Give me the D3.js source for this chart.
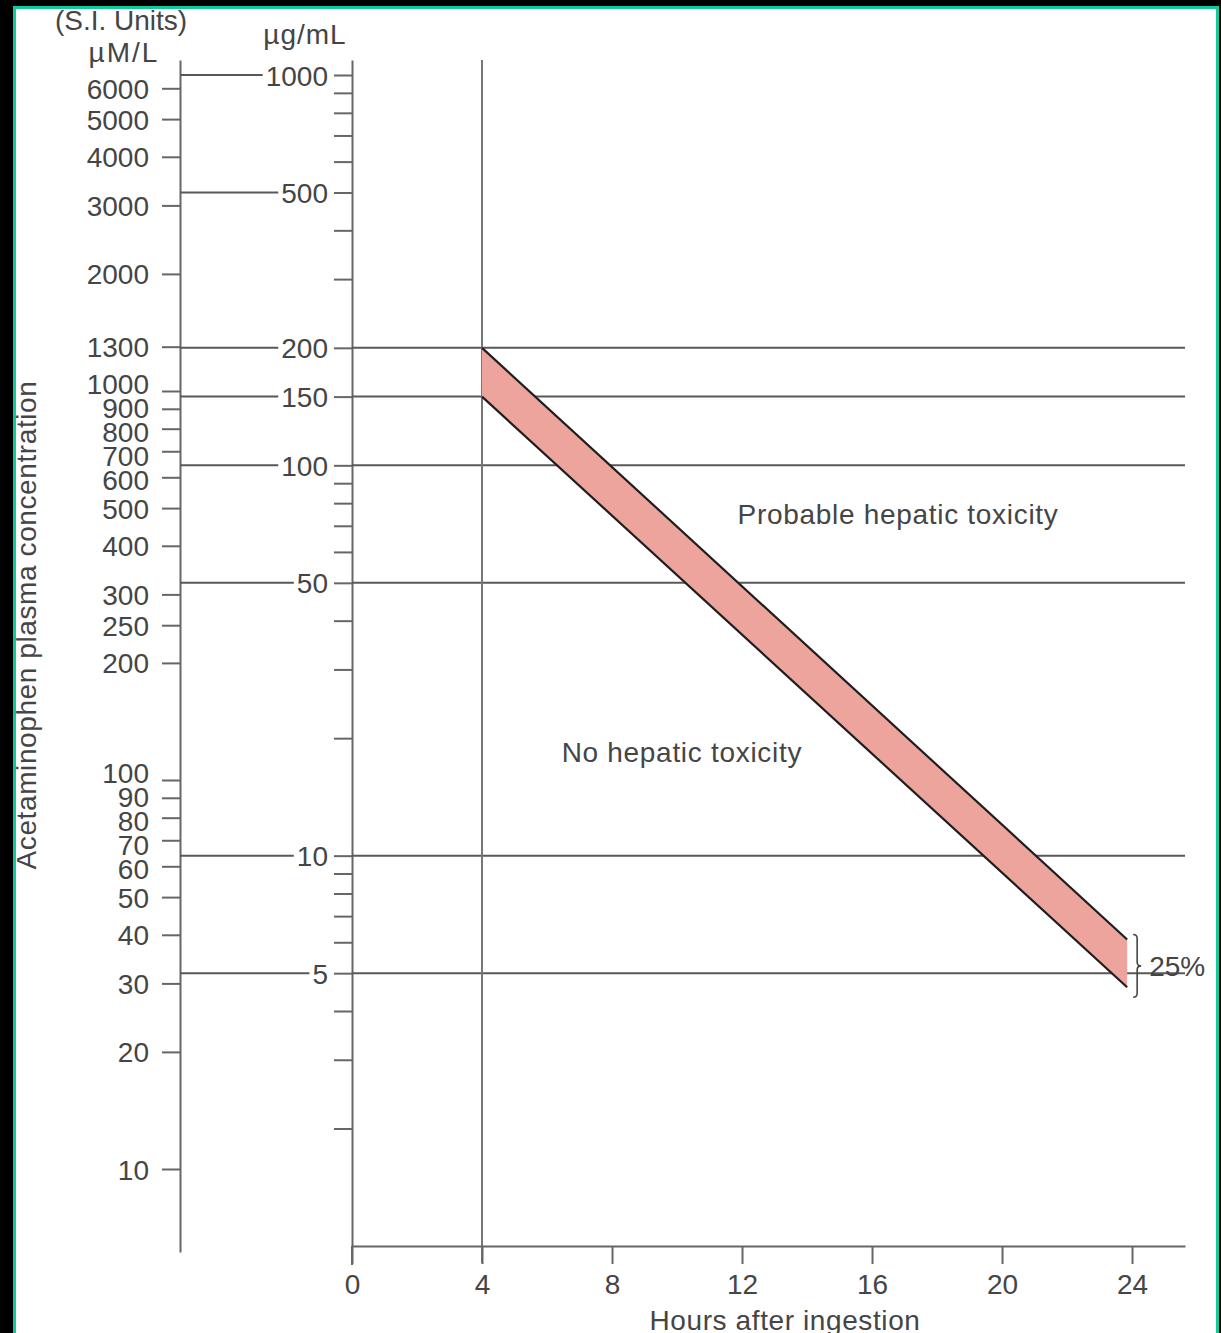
<!DOCTYPE html>
<html><head><meta charset="utf-8">
<script src="https://cdn.jsdelivr.net/npm/d3@7"></script>
<style>
html,body{margin:0;padding:0;background:#000;}
svg{display:block;}
text{font-family:"Liberation Sans",Arial,Helvetica,sans-serif;fill:#454545;}
</style>
</head><body>
<svg id="c" width="1221" height="1333"></svg>
<script>
// ---------- data ----------
const hourTicks = [0, 4, 8, 12, 16, 20, 24];
const ugMajor = [1000, 500, 200, 150, 100, 50, 10, 5];
const ugMinor = [900, 800, 700, 600, 400, 300, 90, 80, 70, 60, 40, 30, 20, 9, 8, 7, 6, 4, 3, 2];
const ugGridRight = [200, 150, 100, 50, 10, 5];
const umTicks = [6000, 5000, 4000, 3000, 2000, 1300, 1000, 900, 800, 700, 600, 500, 400, 300, 250, 200, 100, 90, 80, 70, 60, 50, 40, 30, 20, 10];
const bandHours = [4, 23.85];
const bandUpper = [200, 6.1];
const bandLower = [150, 4.6];
const bandLabel = "25%";
const referenceHour = 4;
const regionLabels = ["Probable hepatic toxicity", "No hepatic toxicity"];
const regionAnchors = [[16.8, 75], [10.15, 18.4]]; // [hours, µg/mL] of text centres
const yTitle = "Acetaminophen plasma concentration";
const xTitle = "Hours after ingestion";

// ---------- setup ----------
const svg = d3.select("#c");
svg.append("rect").attr("width", 1221).attr("height", 1333).attr("fill", "#000");
svg.append("rect").attr("x", 14.5).attr("y", 7.5).attr("width", 1203).attr("height", 1400)
  .attr("fill", "#fff").attr("stroke", "#12c99b").attr("stroke-width", 3);

const FS = 28;
const grey = "#666";
const lineGrey = "#585858";

const x = d3.scaleLinear().domain([0, 25.63]).range([352, 1185]);
const yUg = d3.scaleLog().domain([1, 1000]).range([1246, 75]);
const yUm = d3.scaleLog().domain([10, 1000]).range([1169, 391]);

const xAxisX = 352, umAxisX = 180;
const topY = 60;

const yUgAxis = yUg.copy().domain([1, yUg.invert(topY)]).range([1246, topY]);
const yUmAxis = yUm.copy().domain([yUm.invert(1252), yUm.invert(topY)]).range([1252, topY]);

function styleAxis(g) {
  g.selectAll(".domain").attr("stroke", grey).attr("stroke-width", 2);
  g.selectAll(".tick line").attr("stroke", grey).attr("stroke-width", 2);
  g.selectAll("text").attr("font-size", FS).attr("fill", "#454545")
    .attr("font-family", '"Liberation Sans",Arial,sans-serif');
}

// µM/L axis
const gUm = svg.append("g").attr("transform", `translate(${umAxisX},0)`)
  .call(d3.axisLeft(yUmAxis).tickValues(umTicks).tickFormat(d3.format("d")).tickSize(18).tickSizeOuter(0).tickPadding(13));
styleAxis(gUm);
gUm.selectAll("text").attr("dy", "0.36em");

// spread crowded µM labels so they stack without overlapping
(function relax() {
  const items = umTicks.map(v => ({v, y: yUm(v)})).sort((a, b) => a.y - b.y);
  const minGap = 24;
  for (let it = 0; it < 200; it++) {
    let moved = false;
    for (let i = 0; i < items.length - 1; i++) {
      const gap = items[i + 1].y - items[i].y;
      if (gap < minGap) {
        const push = (minGap - gap) / 2;
        items[i].y -= push; items[i + 1].y += push; moved = true;
      }
    }
    if (!moved) break;
  }
  const pos = new Map(items.map(d => [d.v, d.y]));
  gUm.selectAll(".tick").each(function(d) {
    d3.select(this).select("text").attr("y", pos.get(d) - yUmAxis(d));
  });
})();

// µg/mL axis
const gUg = svg.append("g").attr("transform", `translate(${xAxisX},0)`)
  .call(d3.axisLeft(yUgAxis).tickValues(ugMajor.concat(ugMinor))
    .tickFormat(d => ugMajor.includes(d) ? d3.format("d")(d) : "")
    .tickSize(18).tickSizeOuter(0).tickPadding(6));
styleAxis(gUg);
gUg.selectAll("text").attr("dy", "0.36em");
svg.append("line").attr("x1", xAxisX).attr("x2", xAxisX).attr("y1", yUg(1)).attr("y2", yUg(1) + 19)
  .attr("stroke", grey).attr("stroke-width", 2);

// connecting lines from µM axis to µg labels
gUg.selectAll(".tick").each(function(d) {
  if (!ugMajor.includes(d)) return;
  const t = d3.select(this).select("text").node();
  const w = t.getComputedTextLength();
  const right = xAxisX - 18 - 6;
  const left = right - w - 3;
  svg.append("line").attr("x1", umAxisX).attr("x2", left)
    .attr("y1", yUg(d)).attr("y2", yUg(d)).attr("stroke", lineGrey).attr("stroke-width", 2);
});

// horizontal reference lines through plot
svg.append("g").selectAll("line").data(ugGridRight).join("line")
  .attr("x1", xAxisX).attr("x2", x.range()[1])
  .attr("y1", d => yUg(d)).attr("y2", d => yUg(d))
  .attr("stroke", lineGrey).attr("stroke-width", 2);

// vertical 4h line
svg.append("line").attr("x1", x(referenceHour)).attr("x2", x(referenceHour))
  .attr("y1", topY).attr("y2", yUg(1) + 17).attr("stroke", "#777").attr("stroke-width", 2);

// time axis
const gX = svg.append("g").attr("transform", `translate(0,${yUg(1)})`)
  .call(d3.axisBottom(x).tickValues(hourTicks).tickFormat(d3.format("d")).tickSize(18).tickSizeOuter(0).tickPadding(10));
styleAxis(gX);

// band
const bandData = bandHours.map((h, i) => ({h, up: bandUpper[i], lo: bandLower[i]}));
svg.append("path").datum(bandData)
  .attr("d", d3.area().x(d => x(d.h)).y0(d => yUg(d.lo)).y1(d => yUg(d.up)))
  .attr("fill", "#eda49d");
["up", "lo"].forEach(k => {
  svg.append("path").datum(bandData)
    .attr("d", d3.line().x(d => x(d.h)).y(d => yUg(d[k])))
    .attr("fill", "none").attr("stroke", "#1e1e1e").attr("stroke-width", 2.2);
});

// brace + 25%
const bx = x(bandHours[1]) + 10;
const bTop = yUg(bandUpper[1]) - 5, bBot = yUg(bandLower[1]) + 10;
const bMid = (bTop + bBot) / 2;
svg.append("path")
  .attr("d", `M${bx-4},${bTop} Q${bx},${bTop} ${bx},${bTop+4} L${bx},${bMid-4} Q${bx},${bMid} ${bx+4},${bMid} Q${bx},${bMid} ${bx},${bMid+4} L${bx},${bBot-4} Q${bx},${bBot} ${bx-4},${bBot}`)
  .attr("fill", "none").attr("stroke", "#444").attr("stroke-width", 1.6);
svg.append("text").attr("x", bx + 12).attr("y", bMid + 10).attr("font-size", FS).text(bandLabel);

// region labels
regionLabels.forEach((t, i) => {
  svg.append("text").attr("x", x(regionAnchors[i][0])).attr("y", yUg(regionAnchors[i][1]))
    .attr("text-anchor", "middle").attr("dy", "0.36em").attr("font-size", FS)
    .attr("letter-spacing", 0.7).text(t);
});

// titles
svg.append("text").attr("x", 121).attr("y", 30).attr("text-anchor", "middle").attr("font-size", FS).text("(S.I. Units)");
svg.append("text").attr("x", 124).attr("y", 62).attr("text-anchor", "middle").attr("font-size", FS).attr("letter-spacing", 2).text("µM/L");
svg.append("text").attr("x", 305).attr("y", 44).attr("text-anchor", "middle").attr("font-size", FS).attr("letter-spacing", 1).text("µg/mL");
svg.append("text").attr("transform", "translate(36,625) rotate(-90)").attr("text-anchor", "middle")
  .attr("font-size", FS).attr("letter-spacing", 0.6).text(yTitle);
svg.append("text").attr("x", 785).attr("y", 1330).attr("text-anchor", "middle")
  .attr("font-size", FS).attr("letter-spacing", 0.6).text(xTitle);
</script>
</body></html>
